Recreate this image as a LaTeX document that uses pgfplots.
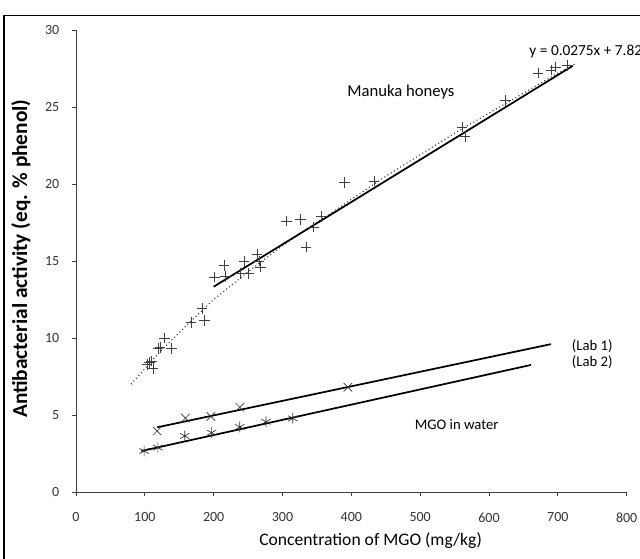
\documentclass[border=0pt]{standalone}
\usepackage{fontspec}
\setmainfont{Carlito}
\usepackage{pgfplots}
\pgfplotsset{compat=1.18}

\begin{document}
\begin{tikzpicture}
\useasboundingbox (0,0) rectangle (480pt,419.25pt);
\begin{axis}[
    at={(57pt,50.25pt)}, anchor=south west,
    scale only axis, width=413pt, height=346.5pt,
    xmin=0, xmax=800, ymin=0, ymax=30,
    axis lines=left,
    axis line style={-, black!75, line width=0.5pt},
    xtick={0,100,...,800}, ytick={0,5,...,30},
    tick align=outside, major tick length=3pt,
    tick style={black!75, line width=0.5pt},
    tick label style={font=\fontsize{10.5}{13}\selectfont, text=black!80},
    /pgf/number format/assume math mode=true,
    xticklabel style={yshift=-9pt},
    yticklabel style={xshift=-6pt},
    xlabel={Concentration of MGO (mg/kg)},
    ylabel={\bfseries Antibacterial activity (eq. \% phenol)},
    xlabel style={font=\fontsize{13.2}{15}\selectfont, at={(axis description cs:0.535,-0.106)}, anchor=center},
    ylabel style={font=\fontsize{16}{18}\selectfont, at={(axis description cs:-0.1,0.505)}, anchor=center},
    clip=false,
  ]
  % Manuka honeys: curved trend (dotted)
  \addplot[black!80, dotted, line width=0.8pt] coordinates {
    (80,7.0)(120,9.0)(160,10.8)(200,12.5)(250,14.3)(300,16.0)(350,17.5)
    (400,19.0)(450,20.5)(500,21.9)(550,23.3)(600,24.6)(650,25.9)(700,27.2)(725,27.8)};
  % Manuka honeys: linear fit
  \addplot[black, line width=1.3pt] coordinates {(200,13.33)(722,27.68)};
  % Manuka honeys: data
  \addplot[only marks, mark=+, mark size=4pt, black!75, mark options={line width=0.5pt}] coordinates {
    (103,8.3)(107,8.4)(110,8.5)(112,8.0)(119,9.3)(122,9.4)(129,10.0)(139,9.3)
    (167,11.0)(183,11.9)(187,11.15)(201,13.96)(215,14.7)(217,14.0)(239,14.2)
    (244,14.95)(251,14.2)(263,15.4)(266,15.0)(268,14.6)(306,17.6)(326,17.7)
    (334,15.9)(345,17.2)(357,17.9)(390,20.1)(433,20.2)(561,23.7)(565,23.1)
    (624,25.4)(671,27.2)(690,27.4)(697,27.6)(714,27.7)};
  % MGO in water, Lab 1
  \addplot[black, line width=1.3pt] coordinates {(118,4.2)(690,9.6)};
  \addplot[only marks, mark=x, mark size=4.5pt, black!80, mark options={line width=0.5pt}] coordinates {
    (118,3.96)(159,4.8)(196,4.9)(238,5.5)(395,6.8)};
  % MGO in water, Lab 2
  \addplot[black, line width=1.3pt] coordinates {(95,2.66)(661,8.25)};
  \addplot[only marks, mark=asterisk, mark size=4pt, black!80, mark options={line width=0.5pt}] coordinates {
    (99,2.66)(119,2.88)(158,3.64)(197,3.85)(238,4.22)(276,4.56)(315,4.78)};
  % annotations
  \node[font=\fontsize{12.5}{14}\selectfont] at (axis cs:472,26.0) {Manuka honeys};
  \node[font=\fontsize{11.5}{13}\selectfont, anchor=west] at (axis cs:652,28.6) {y = 0.0275x + 7.826};
  \node[font=\fontsize{11}{13}\selectfont] at (axis cs:553,4.35) {MGO in water};
  \node[font=\fontsize{11}{13}\selectfont] at (axis cs:750,9.5) {(Lab 1)};
  \node[font=\fontsize{11}{13}\selectfont] at (axis cs:750,8.46) {(Lab 2)};
\end{axis}
% frame of the scanned figure (left and top edges)
\draw[black, line width=1pt] (3pt,0pt) -- (3pt,407.5pt) -- (480pt,407.5pt);
\end{tikzpicture}
\end{document}
